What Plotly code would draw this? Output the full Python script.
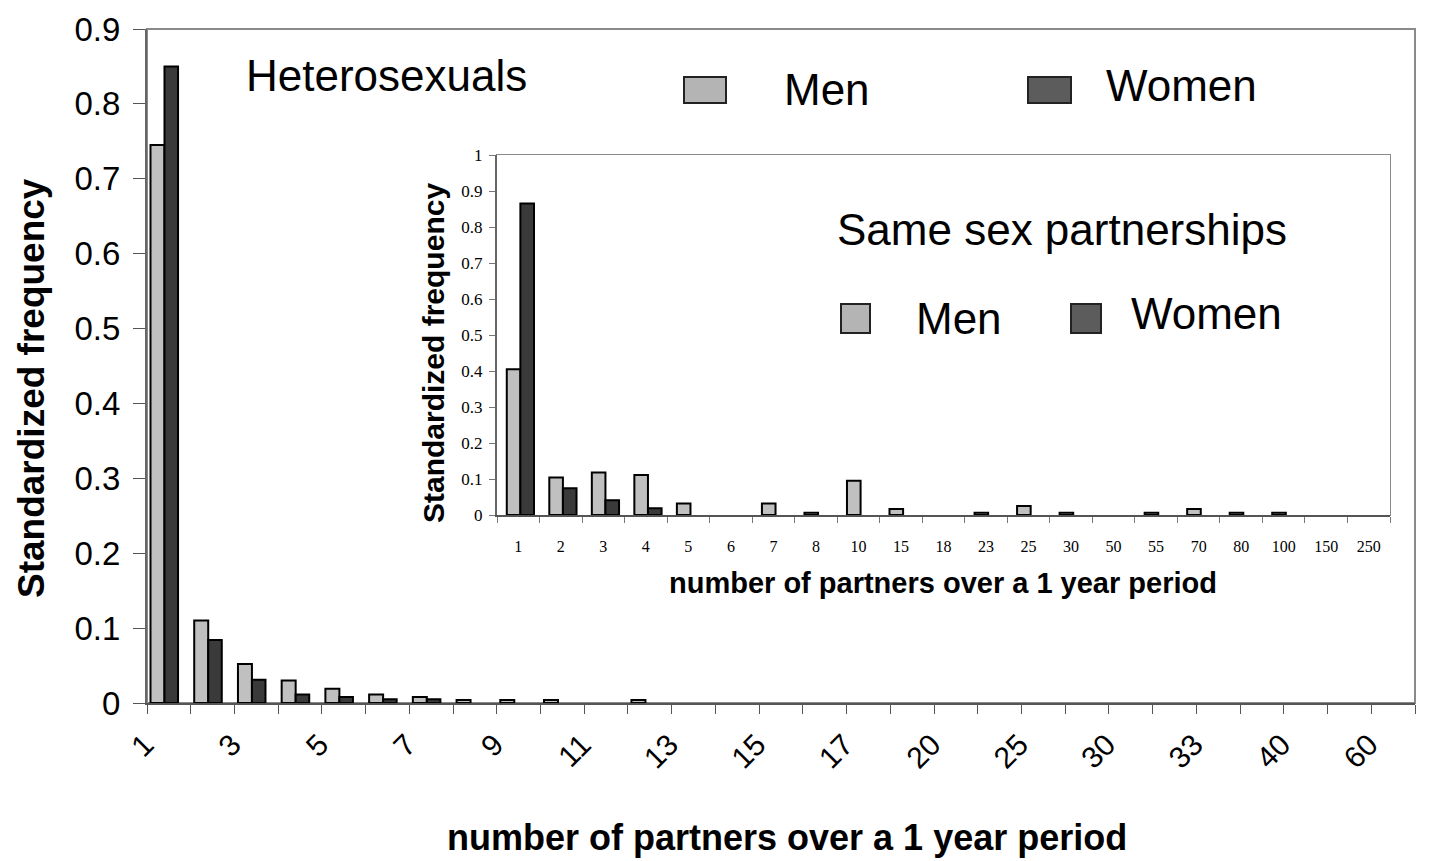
import plotly.graph_objects as go

W, H = 1432, 861
OFF = 8  # page body margin of the html page
FW, FH = W - OFF, H - OFF

# ---------------- data ----------------
# Heterosexuals (main chart)
hetero_categories = ["1", "2", "3", "4", "5", "6", "7", "8", "9", "10", "11", "12", "13", "14",
                     "15", "16", "17", "18", "20", "22", "25", "28", "30", "32", "33", "35",
                     "40", "50", "60"]
hetero_labelled = ["1", "3", "5", "7", "9", "11", "13", "15", "17", "20", "25", "30", "33", "40", "60"]
hetero_men = [0.745, 0.110, 0.052, 0.030, 0.019, 0.0115, 0.008, 0.004, 0.004, 0.004, 0, 0.004,
              0, 0, 0, 0, 0, 0, 0, 0, 0, 0, 0, 0, 0, 0, 0, 0, 0]
hetero_women = [0.850, 0.084, 0.031, 0.0115, 0.008, 0.005, 0.005, 0, 0, 0, 0, 0,
                0, 0, 0, 0, 0, 0, 0, 0, 0, 0, 0, 0, 0, 0, 0, 0, 0]

# Same sex partnerships (inset chart)
same_categories = ["1", "2", "3", "4", "5", "6", "7", "8", "10", "15", "18", "23", "25", "30",
                   "50", "55", "70", "80", "100", "150", "250"]
same_men = [0.405, 0.104, 0.118, 0.111, 0.032, 0, 0.032, 0.006, 0.095, 0.017, 0, 0.006,
            0.025, 0.006, 0, 0.006, 0.017, 0.006, 0.006, 0, 0]
same_women = [0.865, 0.074, 0.041, 0.019, 0, 0, 0, 0, 0, 0, 0, 0,
              0, 0, 0, 0, 0, 0, 0, 0, 0]

main_y_ticks = [0, 0.1, 0.2, 0.3, 0.4, 0.5, 0.6, 0.7, 0.8, 0.9]
inset_y_ticks = [0, 0.1, 0.2, 0.3, 0.4, 0.5, 0.6, 0.7, 0.8, 0.9, 1]

# ---------------- styles ----------------
MEN_FILL = "#c0c0c0"
WOMEN_FILL = "#3a3a3a"
SANS = "Arial, 'Liberation Sans', sans-serif"
SERIF = "'Times New Roman', 'Liberation Serif', serif"


def px_x(x):
    return (x - OFF) / FW


def px_y(y):
    return 1 - (y - OFF) / FH


def outline(values):
    return dict(color="black", width=[2 if v > 0 else 0 for v in values])


fig = go.Figure()
fig.add_trace(go.Bar(x=hetero_categories, y=hetero_men, name="Men", offset=-0.42, width=0.32,
                     marker=dict(color=MEN_FILL, line=outline(hetero_men)), xaxis="x", yaxis="y"))
fig.add_trace(go.Bar(x=hetero_categories, y=hetero_women, name="Women", offset=-0.10, width=0.31,
                     marker=dict(color=WOMEN_FILL, line=outline(hetero_women)), xaxis="x", yaxis="y"))
fig.add_trace(go.Bar(x=same_categories, y=same_men, name="Men", offset=-0.27, width=0.32,
                     marker=dict(color=MEN_FILL, line=outline(same_men)), xaxis="x2", yaxis="y2"))
fig.add_trace(go.Bar(x=same_categories, y=same_women, name="Women", offset=0.05, width=0.32,
                     marker=dict(color=WOMEN_FILL, line=outline(same_women)), xaxis="x2", yaxis="y2"))

main_ticktext = [c if c in hetero_labelled else "" for c in hetero_categories]

fig.update_layout(
    template="none",
    width=FW, height=FH,
    margin=dict(l=0, r=0, t=0, b=0, pad=0),
    paper_bgcolor="white", plot_bgcolor="white",
    showlegend=False,
    barmode="group", bargap=0.37, bargroupgap=0,
    xaxis=dict(
        domain=[px_x(147), px_x(1415)], anchor="y", automargin=False,
        type="category", categoryorder="array", categoryarray=hetero_categories,
        tickmode="array", tickvals=hetero_categories, ticktext=main_ticktext,
        tickson="boundaries", ticks="outside", ticklen=9, tickwidth=1, tickcolor="#555",
        tickangle=-45, ticklabelstandoff=10, ticklabelshift=-24,
        tickfont=dict(family=SANS, size=30, color="black"),
        showline=True, linecolor="#555", linewidth=2,
        showgrid=False, zeroline=False, fixedrange=True,
    ),
    yaxis=dict(
        domain=[px_y(703), px_y(29)], anchor="x", automargin=False,
        range=[0, 0.9], tickmode="array", tickvals=main_y_ticks,
        ticktext=[f"{v:g}" for v in main_y_ticks],
        ticks="outside", ticklen=12, tickwidth=1, tickcolor="#555",
        tickfont=dict(family=SANS, size=33, color="black"), ticklabelstandoff=6,
        showline=True, linecolor="#666", linewidth=2,
        showgrid=False, zeroline=False, fixedrange=True,
    ),
    xaxis2=dict(
        domain=[px_x(497), px_x(1390)], anchor="y2", automargin=False,
        type="category", categoryorder="array", categoryarray=same_categories,
        tickmode="array", tickvals=same_categories, ticktext=same_categories,
        tickson="boundaries", ticks="outside", ticklen=6, tickwidth=1, tickcolor="#777",
        tickangle=0, ticklabelstandoff=16,
        tickfont=dict(family=SERIF, size=16, color="black"),
        showline=True, linecolor="#555", linewidth=2,
        showgrid=False, zeroline=False, fixedrange=True,
    ),
    yaxis2=dict(
        domain=[px_y(515), px_y(155)], anchor="x2", automargin=False,
        range=[0, 1], tickmode="array", tickvals=inset_y_ticks,
        ticktext=[f"{v:g}" for v in inset_y_ticks],
        ticks="outside", ticklen=6, tickwidth=1, tickcolor="#777",
        tickfont=dict(family=SERIF, size=17, color="black"), ticklabelstandoff=3,
        showline=True, linecolor="#666", linewidth=2,
        showgrid=False, zeroline=False, fixedrange=True,
    ),
)

shapes = []
shapes.append(dict(type="rect", xref="x domain", yref="y domain", x0=0, x1=1, y0=0, y1=1,
                   line=dict(color="#8a8a8a", width=2), fillcolor="rgba(0,0,0,0)", layer="below"))
shapes.append(dict(type="rect", xref="x2 domain", yref="y2 domain", x0=0, x1=1, y0=0, y1=1,
                   line=dict(color="#8a8a8a", width=2), fillcolor="white", layer="below"))


def key(x0, x1, y0, y1, fill):
    return dict(type="rect", xref="paper", yref="paper",
                x0=px_x(x0), x1=px_x(x1), y0=px_y(y1), y1=px_y(y0),
                line=dict(color="#222", width=2), fillcolor=fill, layer="above")


shapes.append(key(684, 726, 77, 103, "#b4b4b4"))
shapes.append(key(1028, 1071, 77, 103, "#5c5c5c"))
shapes.append(key(841, 870, 304, 333, "#b4b4b4"))
shapes.append(key(1071, 1101, 304, 333, "#5c5c5c"))
fig.update_layout(shapes=shapes)


def note(text, x, y, size, bold=False, angle=0):
    return dict(text=f"<b>{text}</b>" if bold else text, xref="paper", yref="paper",
                x=px_x(x), y=px_y(y), xanchor="center", yanchor="middle",
                showarrow=False, textangle=angle,
                font=dict(family=SANS, size=size, color="black"))


annotations = [
    note("Heterosexuals", 386, 76, 44),
    note("Men", 827, 89, 44),
    note("Women", 1181, 86, 44),
    note("Same sex partnerships", 1062, 229, 44),
    note("Men", 959, 318, 44),
    note("Women", 1206, 313, 44),
    note("Standardized frequency", 31, 388, 37, bold=True, angle=-90),
    note("number of partners over a 1 year period", 787, 837, 36, bold=True),
    note("Standardized frequency", 433, 353, 30, bold=True, angle=-90),
    note("number of partners over a 1 year period", 943, 583, 29, bold=True),
]
fig.update_layout(annotations=annotations)

fig.write_html("out.html")
